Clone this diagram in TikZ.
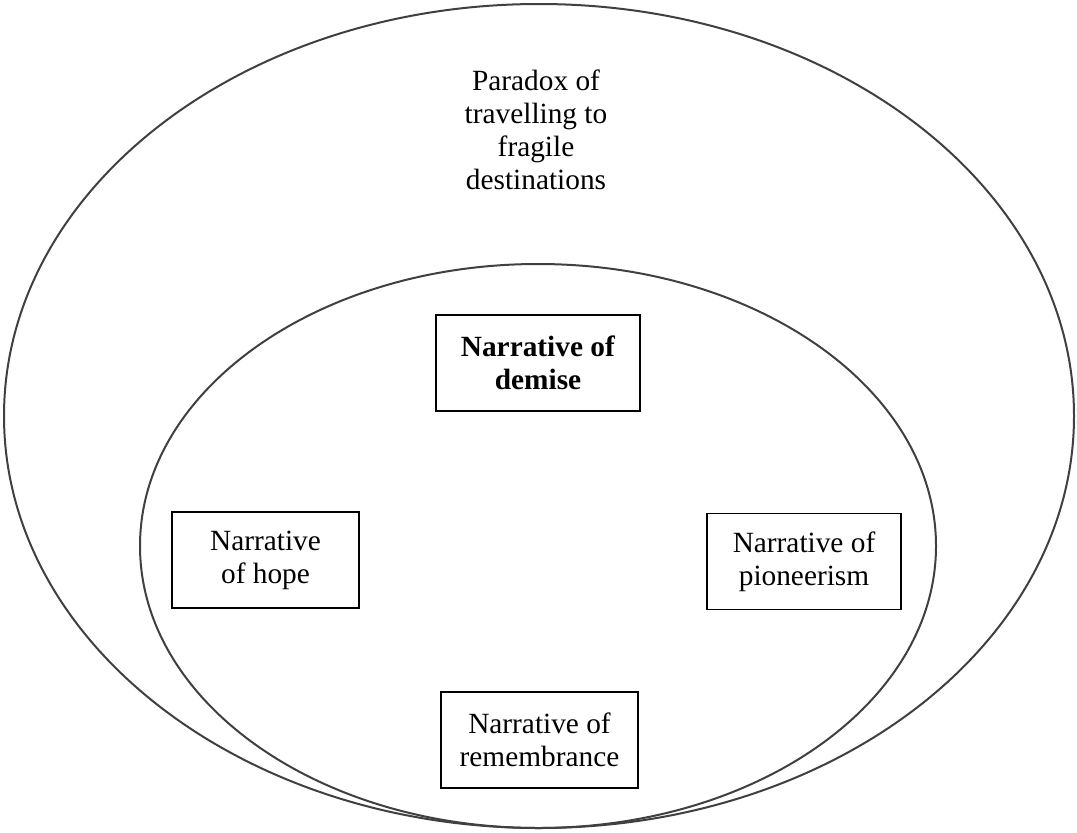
\documentclass[tikz,border=0pt]{standalone}
\usepackage{fontspec}
\setmainfont{Liberation Serif}

\begin{document}
\begin{tikzpicture}
[ringDecorate/.style={draw=black!75,line width=1.5pt},%
  boxDecorate/.style={draw,line width=0.9pt,align=center,inner sep=0pt,minimum height=72pt},%
  every node/.style={font=\fontsize{22}{24.75}\selectfont},%
  x=0.75pt,y=-0.75pt]
\useasboundingbox (0,0) rectangle (1077,832);
%% rings
\draw[ringDecorate] (539,416) ellipse [x radius=535, y radius=412];
\draw[ringDecorate] (538,546) ellipse [x radius=398, y radius=282];
%% title of the outer ring
\node (paradox) at (536,130) [align=center] {Paradox of\\travelling to\\fragile\\destinations};
%% narratives
\foreach \nodename/\x/\y/\w/\txt in {
  demise/538/363/204/{\textbf{Narrative of}\\\textbf{demise}},
  hope/265.5/560/187/{Narrative\\of hope},
  pioneerism/804/561.5/194/{Narrative of\\pioneerism},
  remembrance/539.5/740/197/{Narrative of\\remembrance}}
{
  \node (\nodename) at (\x,\y) [boxDecorate,minimum width=\w*0.75pt] {\txt};
}
\end{tikzpicture}
\end{document}
